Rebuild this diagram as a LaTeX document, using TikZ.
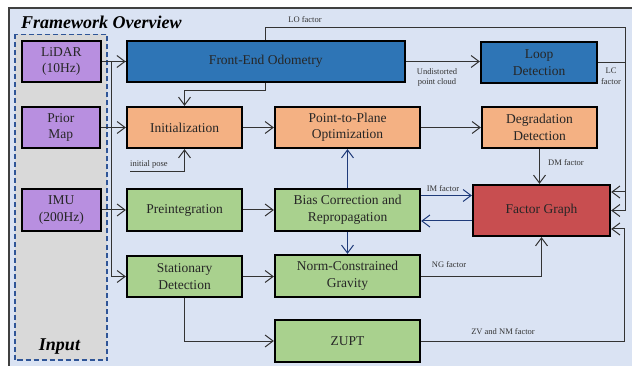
\documentclass[tikz,border=0pt]{standalone}
\usepackage{fontspec}
\setmainfont{Liberation Serif}
\usetikzlibrary{arrows.meta}
\definecolor{bgblue}{HTML}{DAE3F3}
\definecolor{inputgray}{HTML}{D9D9D9}
\definecolor{dashblue}{HTML}{2F5597}
\definecolor{sensor}{HTML}{B88FE0}
\definecolor{odom}{HTML}{2E75B6}
\definecolor{opt}{HTML}{F4B183}
\definecolor{imuproc}{HTML}{A9D18E}
\definecolor{graph}{HTML}{C84E50}
\definecolor{navy}{HTML}{1F3B7A}
\begin{document}
\begin{tikzpicture}[x=1pt,y=-1pt,
                    box/.style={draw=black,line width=2.2pt,align=center,inner sep=1pt,
                                font=\fontsize{13.5}{16.5}\selectfont,text=black!85},
                    conn/.style={draw=black!80,line width=1pt,-{Straight Barb[length=8pt,width=12pt]}},
                    navyconn/.style={conn,draw=navy},
                    tag/.style={font=\fontsize{8.5}{10.5}\selectfont,text=black!80,align=center,inner sep=0pt}]
    \useasboundingbox (0,0) rectangle (632,366);
    \clip (0,0) rectangle (632,366);
    \draw[fill=bgblue,draw=black!75,line width=2pt] (9,8) rectangle (645,375);
    \node[anchor=base west,inner sep=0pt,font=\fontsize{18}{20}\selectfont\bfseries\itshape] (title) at (21,28.5) {Framework Overview};
    % input sensors
    \draw[fill=inputgray,draw=dashblue,line width=1.5pt,dash pattern=on 5pt off 3pt] (15,34.5) rectangle (107,360);
    \node[anchor=base,inner sep=0pt,font=\fontsize{18}{20}\selectfont\bfseries\itshape] (inputlbl) at (59.5,350) {Input};
    \node[box,fill=sensor,minimum width=79,minimum height=41] (lidar) at (61.3,61.5) {LiDAR\\(10Hz)};
    \node[box,fill=sensor,minimum width=78,minimum height=41] (prior) at (60.8,127.5) {Prior\\Map};
    \node[box,fill=sensor,minimum width=79,minimum height=42] (imu) at (61.3,210) {IMU\\(200Hz)};
    % processing blocks
    \node[box,fill=odom,minimum width=278,minimum height=41] (fe) at (265.8,61.5) {Front-End Odometry};
    \node[box,fill=odom,minimum width=116,minimum height=41] (loop) at (539,62.5) {Loop\\Detection};
    \node[box,fill=opt,minimum width=115,minimum height=41] (init) at (184.5,127.5) {Initialization};
    \node[box,fill=opt,minimum width=145,minimum height=41] (p2p) at (347.5,127.5) {Point-to-Plane\\Optimization};
    \node[box,fill=opt,minimum width=115,minimum height=41] (deg) at (539.5,127.5) {Degradation\\Detection};
    \node[box,fill=imuproc,minimum width=115,minimum height=42] (preint) at (184.5,210) {Preintegration};
    \node[box,fill=imuproc,minimum width=145,minimum height=42] (bias) at (347.5,210) {Bias Correction and\\Repropagation};
    \node[box,fill=graph,minimum width=137,minimum height=51] (fg) at (541.5,210.5) {Factor Graph};
    \node[box,fill=imuproc,minimum width=115,minimum height=41] (stat) at (184.5,276.5) {Stationary\\Detection};
    \node[box,fill=imuproc,minimum width=145,minimum height=42] (norm) at (347.5,276) {Norm-Constrained\\Gravity};
    \node[box,fill=imuproc,minimum width=145,minimum height=42] (zupt) at (347.5,341) {ZUPT};
    % bends
    \coordinate (split) at (111,210);
    \coordinate (ipose) at (130,172);
    \coordinate (lobend) at (625,27.5);
    \coordinate (zvbend) at (624,341);
    % connectors
    \draw[conn] (lidar.east) -- (fe.west);
    \draw[conn] (prior.east) -- (init.west);
    \draw[conn] (imu.east) -- (preint.west);
    \draw[draw=black!80,line width=1pt] (split) |- (fe.west);
    \draw[conn] (split) |- (stat.west);
    \draw[conn] (fe.south) -- ++(0,7) -| (init.north);
    \draw[conn] (ipose) -| (init.south);
    \node[tag,anchor=south west] (iposelbl) at (130,168.5) {initial pose};
    \draw[conn] (fe.east) -- (fe.east -| loop.west);
    \node[tag] (udlbl) at (437,77.5) {Undistorted\\point cloud};
    \draw[conn] (init.east) -- (p2p.west);
    \draw[conn] (p2p.east) -- (deg.west);
    \draw[conn] (deg.south) -- (deg.south |- fg.north);
    \node[tag] (dmlbl) at (566,163) {DM factor};
    \draw[conn] (fe.north) |- (lobend) |- ([yshift=18.5]fg.east);
    \node[tag] (lolbl) at (305,20) {LO factor};
    \draw[conn] (loop.east) -| (lobend |- fg.east) -- (fg.east);
    \node[tag] (lclbl) at (611,76) {LC\\factor};
    \draw[conn] (preint.east) -- (bias.west);
    \draw[navyconn] ([yshift=14.5]bias.east) -- ([yshift=14.5]bias.east -| fg.west);
    \node[tag] (imlbl) at (443,189) {IM factor};
    \draw[navyconn] ([yshift=-10.5]fg.west) -- ([yshift=-10.5]fg.west -| bias.east);
    \draw[navyconn] (bias.north) -- (p2p.south);
    \draw[navyconn] (bias.south) -- (norm.north);
    \draw[conn] (stat.east) -- (stat.east -| norm.west);
    \draw[conn] (norm.east) -| (fg.south);
    \node[tag] (nglbl) at (449,265) {NG factor};
    \draw[conn] (stat.south) |- (zupt.west);
    \draw[conn] (zupt.east) -- (zvbend) |- ([yshift=-18.5]fg.east);
    \node[tag] (zvlbl) at (503,332) {ZV and NM factor};
\end{tikzpicture}
\end{document}
